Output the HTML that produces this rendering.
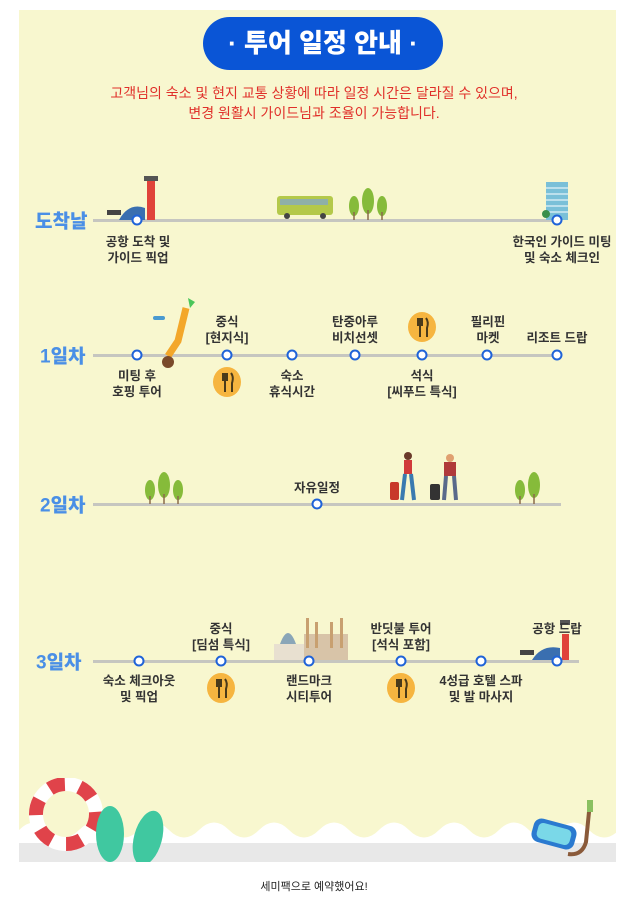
<!DOCTYPE html>
<html><head><meta charset="utf-8"><style>
body{margin:0;width:629px;height:907px;background:#fff;position:relative;overflow:hidden;font-family:"Liberation Sans","Noto Sans CJK KR",sans-serif}
.a{position:absolute}
.t{position:absolute;transform:translateX(-50%);text-align:center;font-size:12.5px;font-weight:bold;color:#333;line-height:16px;white-space:nowrap}
.ln{position:absolute;height:3px;background:#c6c6c0}
.d{position:absolute;width:7px;height:7px;border:2.5px solid #1f63d8;border-radius:50%;background:#fff;transform:translate(-50%,-50%)}
.day{position:absolute;font-size:19px;font-weight:900;color:#4a8fe6;transform:translateY(-50%)}
.f{position:absolute;width:28px;height:30px;border-radius:50%;background:#f6b540;transform:translate(-50%,-50%)}
.f svg{position:absolute;left:0;top:0}
</style></head><body>
<div class="a" style="left:19px;top:10px;width:597px;height:852px;background:#f8f7cf"></div>
<svg class="a" style="left:19px;top:815px" width="597" height="47"><path d="M0 15 Q15 0 30 15 T60 15 T90 15 T120 15 T150 15 T180 15 T210 15 T240 15 T270 15 T300 15 T330 15 T360 15 T390 15 T420 15 T450 15 T480 15 T510 15 T540 15 T570 15 T600 15 V47 H0Z" fill="#fff"/><rect y="28" width="597" height="19" fill="#e8e8e8"/></svg>
<div class="a" style="left:203px;top:17px;width:240px;height:53px;border-radius:27px;background:#0a55d6;color:#fff;font-size:26px;font-weight:900;text-align:center;line-height:53px">· 투어 일정 안내 ·</div>
<div class="t" style="left:314px;top:83px;color:#e0302a;font-weight:normal;font-size:14px;line-height:20px">고객님의 숙소 및 현지 교통 상황에 따라 일정 시간은 달라질 수 있으며,<br>변경 원활시 가이드님과 조율이 가능합니다.</div>

<!-- row1 -->
<div class="day" style="left:35px;top:220px">도착날</div>
<div class="ln" style="left:93px;top:219px;width:468px"></div>
<svg class="a" style="left:105px;top:172px" width="60" height="48"><rect x="42" y="6" width="8" height="42" fill="#e0433a"/><rect x="39" y="4" width="14" height="5" fill="#555"/><path d="M14 48 Q24 30 40 36 V48Z" fill="#3a6fb0"/><rect x="2" y="38" width="14" height="5" fill="#444"/></svg>
<svg class="a" style="left:277px;top:196px" width="58" height="24"><rect x="0" y="0" width="56" height="19" rx="3" fill="#b4c94a"/><rect x="3" y="3" width="48" height="6" fill="#8fb0a8"/><circle cx="10" cy="20" r="3" fill="#444"/><circle cx="46" cy="20" r="3" fill="#444"/></svg>
<svg class="a" style="left:346px;top:188px" width="44" height="32"><g fill="#86bb3a"><ellipse cx="8" cy="18" rx="5" ry="10"/><ellipse cx="22" cy="13" rx="6" ry="13"/><ellipse cx="36" cy="18" rx="5" ry="10"/></g><g stroke="#8b6b4a" stroke-width="1.5"><path d="M8 24V32M22 22V32M36 24V32"/></g></svg>
<svg class="a" style="left:540px;top:178px" width="36" height="42"><rect x="6" y="4" width="22" height="38" fill="#7ac0d8"/><g stroke="#fff" stroke-width="1"><path d="M6 10H28M6 16H28M6 22H28M6 28H28M6 34H28"/></g><circle cx="6" cy="36" r="4" fill="#3a8f4a"/></svg>
<div class="d" style="left:137px;top:220px"></div><div class="d" style="left:557px;top:220px"></div>
<div class="t" style="left:138px;top:234px">공항 도착 및<br>가이드 픽업</div>
<div class="t" style="left:562px;top:234px">한국인 가이드 미팅<br>및 숙소 체크인</div>

<!-- row2 -->
<div class="day" style="left:40px;top:355px">1일차</div>
<div class="ln" style="left:93px;top:354px;width:468px"></div>
<svg class="a" style="left:150px;top:296px" width="50" height="80"><path d="M38 2 L45 6 L40 12Z" fill="#4ac65a"/><path d="M36 12 L28 45 L18 60" stroke="#f3a72a" stroke-width="7" fill="none"/><circle cx="18" cy="66" r="6" fill="#7a4a2a"/><rect x="3" y="20" width="12" height="4" rx="2" fill="#4a9ad0"/></svg>
<div class="d" style="left:137px;top:355px"></div><div class="d" style="left:227px;top:355px"></div><div class="d" style="left:292px;top:355px"></div><div class="d" style="left:355px;top:355px"></div><div class="d" style="left:422px;top:355px"></div><div class="d" style="left:487px;top:355px"></div><div class="d" style="left:557px;top:355px"></div>
<div class="t" style="left:227px;top:314px">중식<br>[현지식]</div>
<div class="t" style="left:355px;top:314px">탄중아루<br>비치선셋</div>
<div class="t" style="left:488px;top:314px">필리핀<br>마켓</div>
<div class="t" style="left:557px;top:330px">리조트 드랍</div>
<div class="t" style="left:137px;top:368px">미팅 후<br>호핑 투어</div>
<div class="t" style="left:292px;top:368px">숙소<br>휴식시간</div>
<div class="t" style="left:422px;top:368px">석식<br>[씨푸드 특식]</div>
<div class="f" style="left:227px;top:382px"><svg width="28" height="30"><path d="M10 6V13M12 6V13M14 6V13M9 13H15M12 13V25M18 6Q21 10 19 16V25" stroke="#4a3a1a" stroke-width="2" fill="none"/></svg></div>
<div class="f" style="left:422px;top:327px"><svg width="28" height="30"><path d="M10 6V13M12 6V13M14 6V13M9 13H15M12 13V25M18 6Q21 10 19 16V25" stroke="#4a3a1a" stroke-width="2" fill="none"/></svg></div>

<!-- row3 -->
<div class="day" style="left:40px;top:504px">2일차</div>
<div class="ln" style="left:93px;top:503px;width:468px"></div>
<svg class="a" style="left:142px;top:472px" width="44" height="32"><g fill="#86bb3a"><ellipse cx="8" cy="18" rx="5" ry="10"/><ellipse cx="22" cy="13" rx="6" ry="13"/><ellipse cx="36" cy="18" rx="5" ry="10"/></g><g stroke="#8b6b4a" stroke-width="1.5"><path d="M8 24V32M22 22V32M36 24V32"/></g></svg>
<svg class="a" style="left:512px;top:472px" width="32" height="32"><g fill="#86bb3a"><ellipse cx="8" cy="18" rx="5" ry="10"/><ellipse cx="22" cy="13" rx="6" ry="13"/></g><g stroke="#8b6b4a" stroke-width="1.5"><path d="M8 24V32M22 22V32"/></g></svg>
<svg class="a" style="left:386px;top:448px" width="86" height="56"><rect x="4" y="34" width="9" height="18" rx="2" fill="#c8382a"/><circle cx="22" cy="8" r="4" fill="#6a3a2a"/><rect x="18" y="12" width="8" height="14" fill="#d03a3a"/><path d="M19 26 L16 52 M25 26 L28 52" stroke="#3a7ab0" stroke-width="4"/><rect x="44" y="36" width="10" height="16" rx="2" fill="#333"/><circle cx="64" cy="10" r="4" fill="#e0a070"/><rect x="58" y="14" width="12" height="14" fill="#b03a3a"/><path d="M60 28 L58 52 M68 28 L70 52" stroke="#5a6a8a" stroke-width="4"/></svg>
<div class="d" style="left:317px;top:504px"></div>
<div class="t" style="left:317px;top:480px">자유일정</div>

<!-- row4 -->
<div class="day" style="left:36px;top:661px">3일차</div>
<div class="ln" style="left:93px;top:660px;width:486px"></div>
<svg class="a" style="left:272px;top:614px" width="78" height="46"><path d="M8 30 Q16 8 24 30Z" fill="#8aa6b8"/><rect x="2" y="30" width="32" height="16" fill="#e8e0d0"/><rect x="32" y="20" width="44" height="26" fill="#d8c4a8"/><g fill="#c8a070"><rect x="34" y="4" width="3" height="30"/><rect x="43" y="8" width="3" height="26"/><rect x="58" y="8" width="3" height="26"/><rect x="68" y="4" width="3" height="30"/></g></svg>
<svg class="a" style="left:520px;top:610px" width="60" height="50"><rect x="42" y="24" width="7" height="26" fill="#e0433a"/><rect x="40" y="10" width="10" height="5" fill="#555"/><path d="M12 50 Q22 34 40 38 V50Z" fill="#3a6fb0"/><rect x="0" y="40" width="14" height="5" fill="#444"/></svg>
<div class="d" style="left:139px;top:661px"></div><div class="d" style="left:221px;top:661px"></div><div class="d" style="left:309px;top:661px"></div><div class="d" style="left:401px;top:661px"></div><div class="d" style="left:481px;top:661px"></div><div class="d" style="left:557px;top:661px"></div>
<div class="t" style="left:221px;top:621px">중식<br>[딤섬 특식]</div>
<div class="t" style="left:401px;top:621px">반딧불 투어<br>[석식 포함]</div>
<div class="t" style="left:557px;top:621px">공항 드랍</div>
<div class="t" style="left:139px;top:673px">숙소 체크아웃<br>및 픽업</div>
<div class="t" style="left:309px;top:673px">랜드마크<br>시티투어</div>
<div class="t" style="left:481px;top:673px">4성급 호텔 스파<br>및 발 마사지</div>
<div class="f" style="left:221px;top:688px"><svg width="28" height="30"><path d="M10 6V13M12 6V13M14 6V13M9 13H15M12 13V25M18 6Q21 10 19 16V25" stroke="#4a3a1a" stroke-width="2" fill="none"/></svg></div>
<div class="f" style="left:401px;top:688px"><svg width="28" height="30"><path d="M10 6V13M12 6V13M14 6V13M9 13H15M12 13V25M18 6Q21 10 19 16V25" stroke="#4a3a1a" stroke-width="2" fill="none"/></svg></div>

<!-- decorations -->
<svg class="a" style="left:28px;top:778px" width="140" height="84"><circle cx="38" cy="36" r="30" fill="none" stroke="#fff" stroke-width="14"/><circle cx="38" cy="36" r="30" fill="none" stroke="#e0434a" stroke-width="14" stroke-dasharray="16 15"/><ellipse cx="82" cy="56" rx="14" ry="28" fill="#40c8a0"/><ellipse cx="120" cy="60" rx="14" ry="28" fill="#40c8a0" transform="rotate(15 120 60)"/></svg>
<svg class="a" style="left:528px;top:798px" width="72" height="64"><rect x="4" y="24" width="44" height="24" rx="8" fill="#2a7ad0" transform="rotate(15 26 36)"/><rect x="9" y="28" width="34" height="16" rx="5" fill="#7ad8e8" transform="rotate(15 26 36)"/><path d="M62 4 L58 44 Q54 58 40 56" stroke="#8a5a3a" stroke-width="4" fill="none"/><rect x="59" y="2" width="6" height="12" fill="#8ac060"/></svg>

<div class="t" style="left:314px;top:879px;font-weight:normal;font-size:11px;color:#222">세미팩으로 예약했어요!</div>
</body></html>
